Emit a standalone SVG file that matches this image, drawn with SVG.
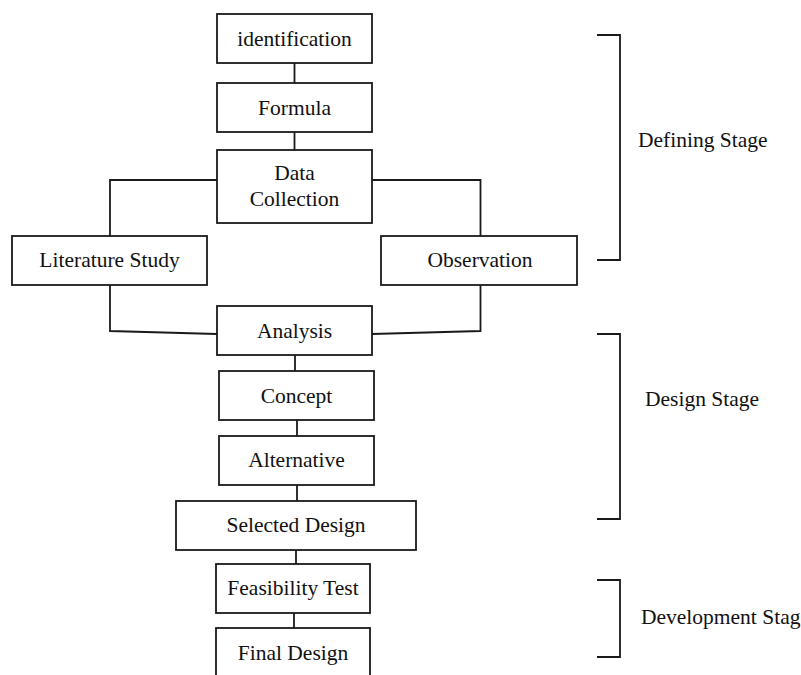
<svg xmlns="http://www.w3.org/2000/svg" width="801" height="675" viewBox="0 0 801 675">
<style>
rect{fill:#fff;stroke:#1a1a1a;stroke-width:1.8}
.c{fill:none;stroke:#1a1a1a;stroke-width:1.8}
text{font-family:"Liberation Serif","Times New Roman",serif;font-size:21.5px;fill:#111}
.m{text-anchor:middle}
</style>
<rect x="0" y="0" width="801" height="675" style="fill:#fff;stroke:none"/>
<g id="connectors">
<path class="c" d="M294.5 63V83M294.5 132V150M217 180H110V236M372 180H480.5V236M110 285V331L217 334M480.5 285V331L372 334M295 355V371M297 420V436M297 485V501M296 550V564M294 613V628"/>
</g>
<g id="identification"><rect x="217" y="14" width="155" height="49"/><text class="m" x="294.5" y="45.5">identification</text></g>
<g id="formula"><rect x="217" y="83" width="155" height="49"/><text class="m" x="294.5" y="115">Formula</text></g>
<g id="data-collection"><rect x="217" y="150" width="155" height="73"/><text class="m" x="294.5" y="180">Data</text><text class="m" x="294.5" y="206">Collection</text></g>
<g id="literature-study"><rect x="12" y="236" width="195" height="49"/><text class="m" x="109.5" y="267">Literature Study</text></g>
<g id="observation"><rect x="381" y="236" width="196" height="49"/><text class="m" x="480" y="267">Observation</text></g>
<g id="analysis"><rect x="217" y="306" width="155" height="49"/><text class="m" x="294.5" y="338">Analysis</text></g>
<g id="concept"><rect x="219" y="371" width="155" height="49"/><text class="m" x="296.5" y="403">Concept</text></g>
<g id="alternative"><rect x="219" y="436" width="155" height="49"/><text class="m" x="296.5" y="467">Alternative</text></g>
<g id="selected-design"><rect x="176" y="501" width="240" height="49"/><text class="m" x="296" y="532">Selected Design</text></g>
<g id="feasibility-test"><rect x="216" y="564" width="154" height="49"/><text class="m" x="293" y="595">Feasibility Test</text></g>
<g id="final-design"><rect x="216" y="628" width="154" height="60"/><text class="m" x="293" y="660">Final Design</text></g>
<g id="defining-stage"><path class="c" d="M597 35H620V260H597"/><text x="638" y="147">Defining Stage</text></g>
<g id="design-stage"><path class="c" d="M597 334H620V519H597"/><text x="645" y="406">Design Stage</text></g>
<g id="development-stage"><path class="c" d="M597 580H620V657H597"/><text x="641" y="624">Development Stage</text></g>
</svg>
